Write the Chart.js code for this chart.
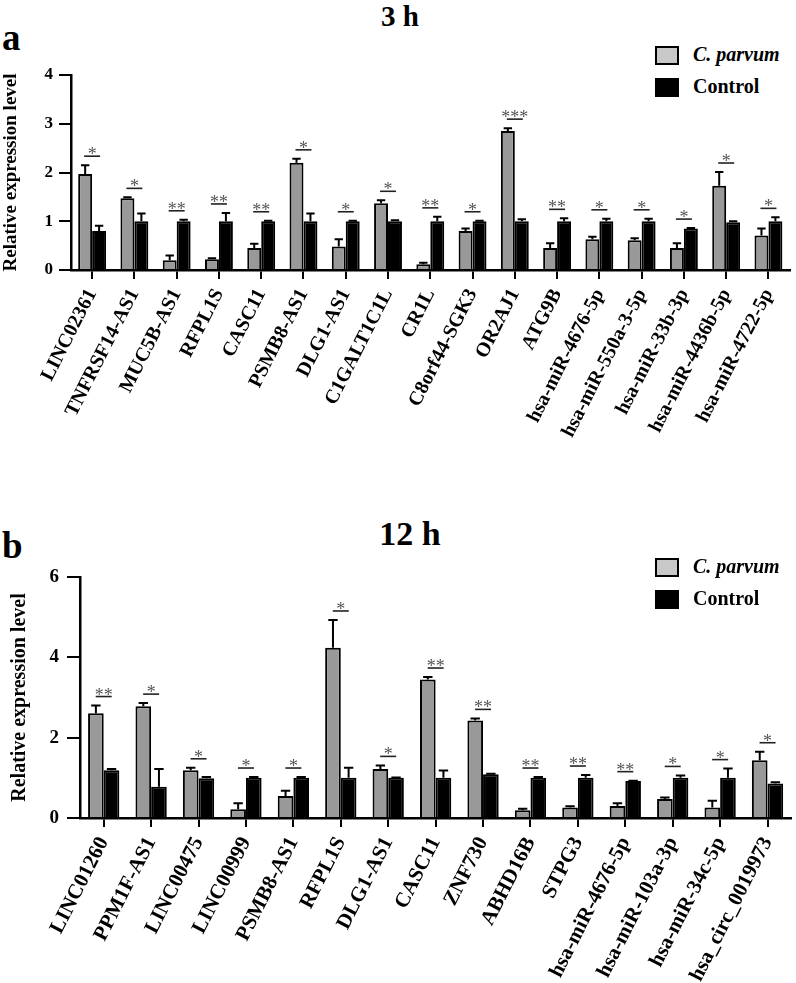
<!DOCTYPE html>
<html>
<head>
<meta charset="utf-8">
<script src="https://cdn.jsdelivr.net/npm/chart.js@4"></script>
<style>
  body { margin: 0; background: #fff; width: 796px; height: 983px; position: relative; overflow: hidden;
         font-family: "Liberation Serif", "Times New Roman", serif; }
  .wrap { position: absolute; left: 0; width: 796px; }
  .title { position: absolute; font-weight: bold; text-align: center; width: 200px; }
  .letter { position: absolute; font-weight: bold; font-size: 37px; }
  .legend { position: absolute; left: 655px; font-weight: bold; font-size: 20px; }
  .legend div { position: relative; height: 32px; line-height: 20px; }
  .legend span.box { position: absolute; left: 0; top: 0; width: 20px; height: 15px; border: 2px solid #000; }
  .legend span.txt { position: absolute; left: 38px; top: -2px; white-space: nowrap; }
</style>
</head>
<body>

<div class="title" style="left:300px; top:0px; font-size:29px;">3 h</div>
<div class="letter" style="left:2px; top:16px;">a</div>
<div class="legend" style="top:46px;">
  <div><span class="box" style="background:#c8c8c8"></span><span class="txt"><i>C. parvum</i></span></div>
  <div><span class="box" style="background:#000"></span><span class="txt">Control</span></div>
</div>
<div class="wrap" style="top:0; height:480px;"><canvas id="chartA"></canvas></div>

<div class="title" style="left:310px; top:515px; font-size:34px;">12 h</div>
<div class="letter" style="left:2px; top:524px;">b</div>
<div class="legend" style="top:558px;">
  <div><span class="box" style="background:#c8c8c8"></span><span class="txt"><i>C. parvum</i></span></div>
  <div><span class="box" style="background:#000"></span><span class="txt">Control</span></div>
</div>
<div class="wrap" style="top:440px; height:543px;"><canvas id="chartB"></canvas></div>

<script>
/* =============================
   DATA — 3 h
============================= */
const labelsA = ["LINC02361", "TNFRSF14-AS1", "MUC5B-AS1", "RFPL1S", "CASC11", "PSMB8-AS1", "DLG1-AS1",
    "C1GALT1C1L", "CR1L", "C8orf44-SGK3", "OR2AJ1", "ATG9B", "hsa-miR-4676-5p", "hsa-miR-550a-3-5p",
    "hsa-miR-33b-3p", "hsa-miR-4436b-5p", "hsa-miR-4722-5p"];
const parvumA    = [1.97, 1.47, 0.20, 0.22, 0.45, 2.20, 0.48, 1.37, 0.12, 0.80, 2.85, 0.45, 0.63, 0.61, 0.45, 1.73, 0.71];
const parvumErrA = [0.18, 0.02, 0.10, 0.02, 0.09, 0.08, 0.15, 0.06, 0.03, 0.05, 0.06, 0.10, 0.05, 0.04, 0.10, 0.28, 0.14];
const controlA    = [0.80, 1.00, 1.00, 1.00, 1.00, 1.00, 1.00, 1.00, 1.00, 1.00, 1.00, 1.00, 1.00, 1.00, 0.85, 0.98, 1.00];
const controlErrA = [0.11, 0.16, 0.03, 0.17, 0.01, 0.16, 0.01, 0.02, 0.09, 0.01, 0.04, 0.06, 0.05, 0.05, 0.01, 0.02, 0.08];
const sigA = ["*", "*", "**", "**", "**", "*", "*", "*", "**", "*", "***", "**", "*", "*", "*", "*", "*"];
const ticksA = [0, 1, 2, 3, 4];

/* =============================
   DATA — 12 h
============================= */
const labelsB = ["LINC01260", "PPM1F-AS1", "LINC00475", "LINC00999", "PSMB8-AS1", "RFPL1S", "DLG1-AS1",
    "CASC11", "ZNF730", "ABHD16B", "STPG3", "hsa-miR-4676-5p", "hsa-miR-103a-3p", "hsa-miR-34c-5p",
    "hsa_circ_0019973"];
const parvumB    = [2.61, 2.78, 1.19, 0.22, 0.55, 4.24, 1.22, 3.45, 2.43, 0.19, 0.26, 0.30, 0.47, 0.26, 1.44];
const parvumErrB = [0.19, 0.08, 0.06, 0.15, 0.13, 0.69, 0.09, 0.06, 0.05, 0.04, 0.03, 0.07, 0.04, 0.17, 0.21];
const controlB    = [1.19, 0.78, 0.99, 1.00, 1.00, 1.00, 1.00, 1.00, 1.09, 1.00, 1.00, 0.92, 1.00, 1.00, 0.86];
const controlErrB = [0.03, 0.44, 0.03, 0.02, 0.02, 0.25, 0.01, 0.18, 0.01, 0.02, 0.07, 0.01, 0.06, 0.23, 0.03];
const sigB = ["**", "*", "*", "*", "*", "*", "*", "**", "**", "**", "**", "**", "*", "*", "*"];
const ticksB = [0, 2, 4, 6];

const FONT = "'Liberation Serif', 'Times New Roman', serif";

/* =============================
   ERROR BARS + SIGNIFICANCE
============================= */
const errorPlugin = {
    id: "errorBars",
    afterDatasetsDraw(chart, args, opts) {
        const ctx = chart.ctx;
        const y = chart.scales.y;
        const errs = opts.errors;
        ctx.save();
        ctx.strokeStyle = "#000";
        ctx.lineWidth = 2;
        errs.forEach((list, di) => {
            const meta = chart.getDatasetMeta(di);
            meta.data.forEach((bar, i) => {
                const v = chart.data.datasets[di].data[i];
                const top = y.getPixelForValue(v + list[i]);
                const half = bar.width * 0.3;
                ctx.beginPath();
                ctx.moveTo(bar.x, bar.y);
                ctx.lineTo(bar.x, top);
                ctx.moveTo(bar.x - half, top);
                ctx.lineTo(bar.x + half, top);
                ctx.stroke();
            });
        });

        // significance line + stars
        const x = chart.scales.x;
        opts.sig.forEach((s, i) => {
            const hi = Math.max(
                chart.data.datasets[0].data[i] + errs[0][i],
                chart.data.datasets[1].data[i] + errs[1][i]
            );
            const ly = y.getPixelForValue(hi) - 9;
            const cx = x.getPixelForValue(i);
            ctx.strokeStyle = "#222";
            ctx.lineWidth = 1.6;
            ctx.beginPath();
            ctx.moveTo(cx - 8, ly);
            ctx.lineTo(cx + 8, ly);
            ctx.stroke();
            ctx.fillStyle = "#555";
            ctx.font = "18px " + FONT;
            ctx.textAlign = "center";
            ctx.textBaseline = "alphabetic";
            ctx.fillText(s, cx, ly + 4);
        });
        ctx.restore();
    }
};

function makeChart(id, labels, parvum, parvumErr, control, controlErr, sig, ticks, cfg) {
    return new Chart(document.getElementById(id), {
        type: "bar",
        data: {
            labels: labels,
            datasets: [{
                label: "C. parvum",
                data: parvum,
                backgroundColor: "#999999",
                borderColor: "#000",
                borderWidth: 2,
                barPercentage: 1,
                categoryPercentage: cfg.catPct
            }, {
                label: "Control",
                data: control,
                backgroundColor: "#000",
                borderColor: "#000",
                borderWidth: 2,
                barPercentage: 1,
                categoryPercentage: cfg.catPct
            }]
        },
        options: {
            responsive: true,
            maintainAspectRatio: false,
            animation: false,
            layout: { padding: { top: cfg.top, right: cfg.right, left: 0, bottom: 0 } },
            plugins: {
                legend: { display: false },
                tooltip: { enabled: false },
                errorBars: { errors: [parvumErr, controlErr], sig: sig }
            },
            scales: {
                x: {
                    offset: true,
                    grid: { offset: false, drawOnChartArea: false, drawTicks: true, tickLength: 9, color: "#000", lineWidth: 2 },
                    border: { display: true, color: "#000", width: 2.5 },
                    ticks: {
                        autoSkip: false, minRotation: 63, maxRotation: 63, padding: 6,
                        color: "#000", font: { family: FONT, size: cfg.xFont, weight: "bold" }
                    },
                    afterFit: s => { s.height = cfg.xHeight; }
                },
                y: {
                    min: 0,
                    max: ticks[ticks.length - 1],
                    afterBuildTicks: s => { s.ticks = ticks.map(v => ({ value: v })); },
                    grid: { drawOnChartArea: false, drawTicks: true, tickLength: cfg.yTick, color: "#000", lineWidth: 2 },
                    border: { display: true, color: "#000", width: 2.5 },
                    ticks: { padding: cfg.yPad, color: "#000", font: { family: FONT, size: cfg.yFont, weight: "bold" } },
                    title: {
                        display: true, text: "Relative expression level", color: "#000",
                        padding: { top: cfg.titlePad, bottom: 0 },
                        font: { family: FONT, size: cfg.titleFont, weight: "bold" }
                    },
                    afterFit: s => { s.width = cfg.yWidth; }
                }
            }
        },
        plugins: [errorPlugin]
    });
}

makeChart("chartA", labelsA, parvumA, parvumErrA, controlA, controlErrA, sigA, ticksA,
    { catPct: 0.66, top: 75, right: 6, xHeight: 210, yWidth: 71, xFont: 20, yFont: 17, yTick: 12, yPad: 6, titleFont: 19, titlePad: 0 });

makeChart("chartB", labelsB, parvumB, parvumErrB, controlB, controlErrB, sigB, ticksB,
    { catPct: 0.66, top: 137, right: 0, xHeight: 165, yWidth: 80, xFont: 21, yFont: 19, yTick: 13, yPad: 8, titleFont: 20, titlePad: 8 });
</script>
</body>
</html>
